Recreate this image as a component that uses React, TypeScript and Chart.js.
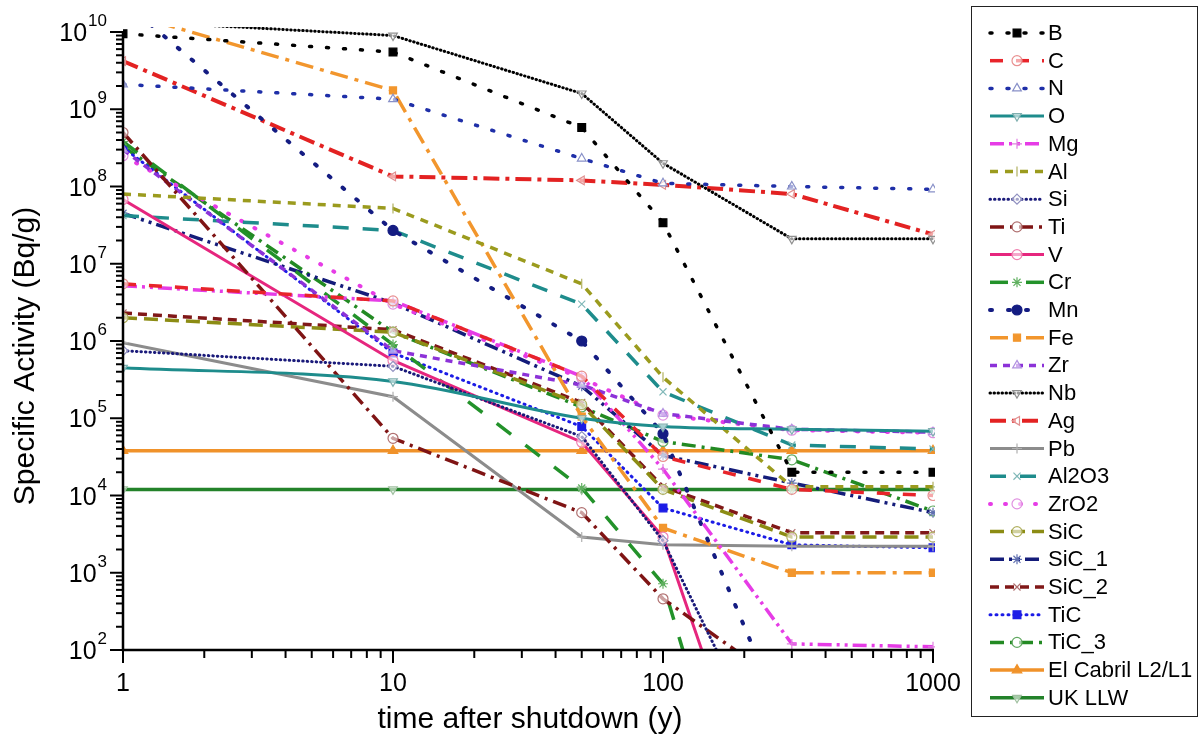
import React, { useEffect, useRef } from 'react';
import { Chart, registerables } from 'chart.js';
import { drawPoint } from 'chart.js/helpers';

Chart.register(...registerables);

// time after shutdown (years)
const times = [1, 10, 50, 100, 300, 1000];

// specific activity (Bq/g)
const B = [9.5e9, 5.5e9, 5.8e8, 3.4e7, 2.0e4, 2.0e4];
const C = [5.5e6, 3.3e6, 3.5e5, 3.2e4, 1.2e4, 1.0e4];
const N = [2.1e9, 1.35e9, 2.3e8, 1.1e8, 1.0e8, 9.2e7];
const O = [4.5e5, 3.0e5, 1.0e5, 7.8e4, 7.2e4, 6.8e4];
const Mg = [5.2e6, 3.3e6, 3.5e5, 2.2e4, 1.2e2, 1.1e2];
const Al = [8.0e7, 5.2e7, 5.5e6, 3.4e5, 1.3e4, 1.3e4];
const Si = [7.5e5, 4.7e5, 5.8e4, 2.6e3, 1.0, 0.5];
const Ti = [5.0e8, 5.5e4, 6.0e3, 4.6e2, 3.0e1, 1.0e1];
const V = [6.8e7, 5.6e5, 4.9e4, 2.9e3, 0.04, 0.01];
const Cr = [3.8e8, 9.0e5, 1.25e4, 7.2e2, 0.002, 0.001];
const Mn = [2.5e10, 2.7e7, 1.0e6, 6.3e4, 7, 1];
const Fe = [1.8e10, 1.75e9, 1.05e5, 3.8e3, 1.0e3, 1.0e3];
const Zr = [3.0e8, 7.5e5, 2.7e5, 1.15e5, 7.2e4, 6.6e4];
const Nb = [1.4e10, 9.0e9, 1.6e9, 2.0e8, 2.1e7, 2.1e7];
const Ag = [4.2e9, 1.35e8, 1.2e8, 1.05e8, 8.0e7, 2.4e7];
const Pb = [9.5e5, 1.9e5, 2.9e3, 2.3e3, 2.2e3, 2.2e3];
const Al2O3 = [4.2e7, 2.7e7, 3.0e6, 2.2e5, 4.5e4, 4.0e4];
const ZrO2 = [2.5e8, 3.0e6, 3.3e5, 1.1e5, 7.0e4, 6.5e4];
const SiC = [2.0e6, 1.3e6, 1.5e5, 1.2e4, 2.9e3, 2.9e3];
const SiC_1 = [4.5e7, 3.1e6, 2.6e5, 3.3e4, 1.45e4, 6.0e3];
const SiC_2 = [2.3e6, 1.4e6, 1.6e5, 1.3e4, 3.3e3, 3.3e3];
const TiC = [3.2e8, 7.0e5, 7.8e4, 6.9e3, 2.3e3, 2.1e3];
const TiC_3 = [3.3e8, 1.3e6, 1.4e5, 5.0e4, 2.9e4, 6.3e3];
const ElCabril = [3.8e4, 3.8e4, 3.8e4, 3.8e4, 3.8e4, 3.8e4];
const UKLLW = [1.2e4, 1.2e4, 1.2e4, 1.2e4, 1.2e4, 1.2e4];

const yTickExponents = [2, 3, 4, 5, 6, 7, 8, 9, 10];
const xTickLabels = ['1', '10', '100', '1000'];

const FONT = "'Liberation Sans', Arial, sans-serif";

type S = {
  label: string; data: number[]; color: string; dash: number[]; width: number;
  cap?: CanvasLineCap; point: string; rot?: number; filled?: boolean; mcolor?: string; r?: number; spline?: boolean;
};

const series: S[] = [
  { label: 'B', data: B, color: '#000000', dash: [2, 15], width: 3.5, cap: 'round', point: 'rect', filled: true, r: 5.5 },
  { label: 'C', data: C, color: '#e8242a', dash: [13, 13], width: 3.5, point: 'circle', mcolor: '#e89090' },
  { label: 'N', data: N, color: '#1f2fa8', dash: [2, 15], width: 3.5, cap: 'round', point: 'triangle', mcolor: '#8890c8' },
  { label: 'O', data: O, color: '#1e8c8c', dash: [], width: 3, point: 'triangle', rot: 180, mcolor: '#80b0b0', spline: true },
  { label: 'Mg', data: Mg, color: '#e63ce6', dash: [14, 5, 3, 5, 3, 5], width: 3.5, point: 'cross', mcolor: '#e080e0' },
  { label: 'Al', data: Al, color: '#9b9b1e', dash: [8, 7], width: 3.5, point: 'line', rot: 90, mcolor: '#b0b060' },
  { label: 'Si', data: Si, color: '#1a1a7a', dash: [0.5, 4], width: 3, cap: 'round', point: 'rectRot', mcolor: '#9090c0' },
  { label: 'Ti', data: Ti, color: '#7f1414', dash: [14, 6, 3, 6], width: 3.5, point: 'circle', mcolor: '#b07070' },
  { label: 'V', data: V, color: '#e6267e', dash: [], width: 3, point: 'circle', mcolor: '#f080b0' },
  { label: 'Cr', data: Cr, color: '#23922a', dash: [18, 18], width: 3.5, point: 'star', mcolor: '#60b060' },
  { label: 'Mn', data: Mn, color: '#141c82', dash: [2, 16], width: 4, cap: 'round', point: 'circle', filled: true, r: 5 },
  { label: 'Fe', data: Fe, color: '#f2962d', dash: [18, 7, 4, 7], width: 3.5, point: 'rect', filled: true, r: 5 },
  { label: 'Zr', data: Zr, color: '#8c32d8', dash: [7, 6], width: 3.5, point: 'triangle', mcolor: '#b090e0' },
  { label: 'Nb', data: Nb, color: '#000000', dash: [0.5, 3.5], width: 3, cap: 'round', point: 'triangle', rot: 180, mcolor: '#909090' },
  { label: 'Ag', data: Ag, color: '#e32222', dash: [16, 6, 4, 6], width: 4, point: 'triangle', rot: -90, mcolor: '#e09090' },
  { label: 'Pb', data: Pb, color: '#8c8c8c', dash: [], width: 3, point: 'cross', mcolor: '#b0b0b0' },
  { label: 'Al2O3', data: Al2O3, color: '#1e8c8c', dash: [16, 14], width: 3.5, point: 'crossRot', mcolor: '#80b8b8' },
  { label: 'ZrO2', data: ZrO2, color: '#e63ce6', dash: [1, 14], width: 4, cap: 'round', point: 'circle', mcolor: '#e090e0' },
  { label: 'SiC', data: SiC, color: '#8c8c14', dash: [14, 7], width: 3.5, point: 'circle', mcolor: '#b0b060' },
  { label: 'SiC_1', data: SiC_1, color: '#141c7a', dash: [14, 5, 3, 5, 3, 5], width: 3.5, point: 'star', mcolor: '#6070b0' },
  { label: 'SiC_2', data: SiC_2, color: '#801818', dash: [9, 6], width: 3.5, point: 'crossRot', mcolor: '#b07070' },
  { label: 'TiC', data: TiC, color: '#1c1ce6', dash: [1, 5], width: 3, cap: 'round', point: 'rect', filled: true, r: 5.5 },
  { label: 'TiC_3', data: TiC_3, color: '#238a23', dash: [14, 6, 3, 6], width: 3.5, point: 'circle', mcolor: '#60a860' },
  { label: 'El Cabril L2/L1', data: ElCabril, color: '#f0922a', dash: [], width: 3.5, point: 'triangle', filled: true, r: 5.5 },
  { label: 'UK LLW', data: UKLLW, color: '#23822a', dash: [], width: 3.5, point: 'triangle', rot: 180, mcolor: '#a0c0a0' },
];

const customPlugin = {
  id: 'customAxesLegend',
  afterDraw(chart: any) {
    const ctx: CanvasRenderingContext2D = chart.ctx;
    const xs = chart.scales.x;
    const ys = chart.scales.y;
    const { left, right, top, bottom } = chart.chartArea;
    ctx.save();
    ctx.setLineDash([]);
    ctx.strokeStyle = '#000';
    ctx.fillStyle = '#000';
    // axis lines
    ctx.lineWidth = 2.5;
    ctx.beginPath();
    ctx.moveTo(left, top - 1);
    ctx.lineTo(left, bottom);
    ctx.lineTo(right + 1, bottom);
    ctx.stroke();
    // y ticks
    ctx.lineWidth = 2;
    for (const n of yTickExponents) {
      const y = ys.getPixelForValue(Math.pow(10, n));
      ctx.beginPath(); ctx.moveTo(left - 13, y); ctx.lineTo(left, y); ctx.stroke();
      if (n < 10) {
        for (let k = 2; k <= 9; k++) {
          const yy = ys.getPixelForValue(k * Math.pow(10, n));
          ctx.beginPath(); ctx.moveTo(left - 7, yy); ctx.lineTo(left, yy); ctx.stroke();
        }
      }
      // label 10^n
      ctx.font = `25px ${FONT}`;
      const wb = ctx.measureText('10').width;
      ctx.font = `17px ${FONT}`;
      const exp = String(n);
      const we = ctx.measureText(exp).width;
      const xe = 107 - we;
      ctx.textAlign = 'left';
      ctx.textBaseline = 'alphabetic';
      ctx.fillText(exp, xe, y - 6);
      ctx.font = `25px ${FONT}`;
      ctx.fillText('10', xe - wb - 1, y + 9);
    }
    // x ticks
    for (let m = 0; m <= 3; m++) {
      const x = xs.getPixelForValue(Math.pow(10, m));
      ctx.beginPath(); ctx.moveTo(x, bottom); ctx.lineTo(x, bottom + 13); ctx.stroke();
      if (m < 3) {
        for (let k = 2; k <= 9; k++) {
          const xx = xs.getPixelForValue(k * Math.pow(10, m));
          ctx.beginPath(); ctx.moveTo(xx, bottom); ctx.lineTo(xx, bottom + 8); ctx.stroke();
        }
      }
      ctx.font = `25px ${FONT}`;
      ctx.textAlign = 'center';
      ctx.textBaseline = 'alphabetic';
      ctx.fillText(xTickLabels[m], x, 691);
    }
    // axis titles
    ctx.font = `30px ${FONT}`;
    ctx.textAlign = 'center';
    ctx.fillText('time after shutdown (y)', (left + right) / 2 + 2, 728);
    ctx.save();
    ctx.translate(34, 356);
    ctx.rotate(-Math.PI / 2);
    ctx.fillText('Specific Activity (Bq/g)', 0, 0);
    ctx.restore();

    // legend
    ctx.lineWidth = 1;
    ctx.strokeStyle = '#222';
    ctx.strokeRect(971.5, 6.5, 226, 710);
    series.forEach((s, i) => {
      const y = 33 + i * 27.7;
      ctx.save();
      ctx.strokeStyle = s.color;
      ctx.lineWidth = s.width;
      ctx.lineCap = s.cap || 'butt';
      ctx.setLineDash(s.dash);
      ctx.beginPath(); ctx.moveTo(990, y); ctx.lineTo(1044, y); ctx.stroke();
      ctx.setLineDash([]);
      ctx.lineCap = 'butt';
      ctx.fillStyle = s.filled ? s.color : 'rgba(255,255,255,0.6)';
      ctx.strokeStyle = s.filled ? s.color : (s.mcolor || s.color);
      ctx.lineWidth = 1.2;
      drawPoint(ctx, { pointStyle: s.point as any, rotation: s.rot || 0, radius: s.r || 5, borderWidth: 1.2 } as any, 1017, y);
      ctx.restore();
      ctx.fillStyle = '#000';
      ctx.font = `22px ${FONT}`;
      ctx.textAlign = 'left';
      ctx.textBaseline = 'middle';
      ctx.fillText(s.label, 1048, y + 1);
    });
    ctx.restore();
  },
};

export default function App() {
  const ref = useRef<HTMLCanvasElement>(null);
  useEffect(() => {
    const datasets = series.map((s) => ({
      label: s.label,
      data: times.map((t, i) => ({ x: t, y: s.data[i] })),
      borderColor: s.color,
      backgroundColor: s.color,
      borderWidth: s.width,
      borderDash: s.dash,
      borderCapStyle: s.cap || 'butt',
      fill: false,
      tension: 0,
      cubicInterpolationMode: s.spline ? 'monotone' : 'default',
      pointStyle: s.point,
      pointRotation: s.rot || 0,
      pointRadius: s.r || 5,
      pointBorderWidth: 1.2,
      pointBackgroundColor: s.filled ? s.color : 'rgba(255,255,255,0.6)',
      pointBorderColor: s.filled ? s.color : (s.mcolor || s.color),
      clip: { left: 0, top: 5, right: 2, bottom: 0 },
    }));
    const chart = new Chart(ref.current as HTMLCanvasElement, {
      type: 'line',
      data: { datasets: datasets as any },
      options: {
        animation: false,
        responsive: false,
        devicePixelRatio: 1,
        layout: { padding: { top: 32, right: 271, left: 0, bottom: 0 } },
        plugins: { legend: { display: false }, tooltip: { enabled: false }, title: { display: false } },
        scales: {
          x: {
            type: 'logarithmic', min: 1, max: 1000,
            ticks: { display: false }, grid: { display: false }, border: { display: false },
            afterFit: (s: any) => { s.height = 99; },
          },
          y: {
            type: 'logarithmic', min: 100, max: 1e10,
            ticks: { display: false }, grid: { display: false }, border: { display: false },
            afterFit: (s: any) => { s.width = 123; },
          },
        },
      } as any,
      plugins: [customPlugin],
    });
    return () => chart.destroy();
  }, []);
  return (
    <div style={{ position: 'fixed', left: 0, top: 0, width: 1204, height: 749, background: '#fff' }}>
      <canvas ref={ref} width={1204} height={749} style={{ display: 'block', width: 1204, height: 749 }} />
    </div>
  );
}
